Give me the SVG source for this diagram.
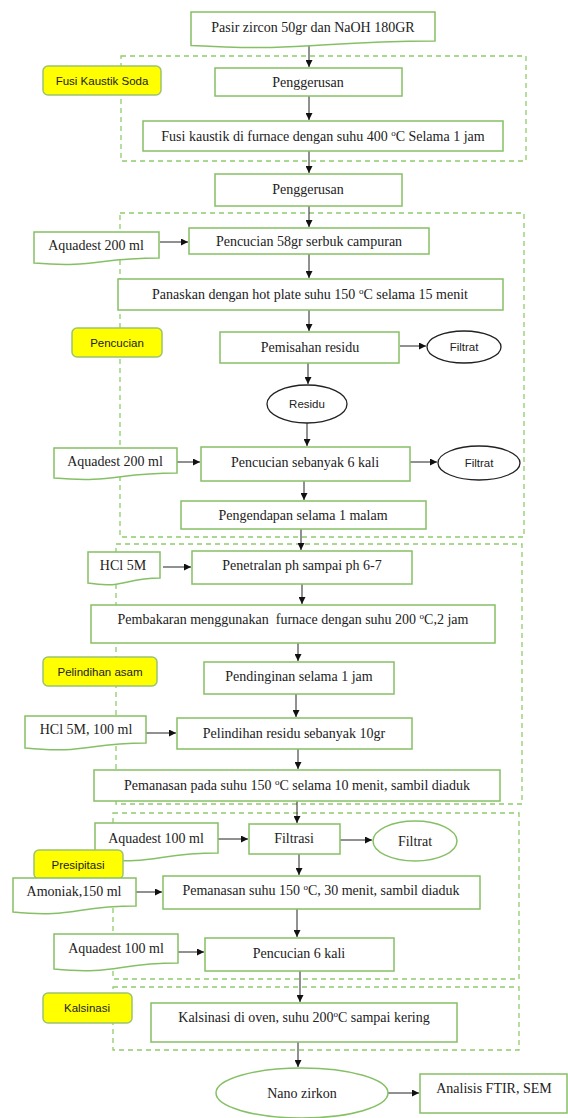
<svg xmlns="http://www.w3.org/2000/svg" width="568" height="1118" viewBox="0 0 568 1118">
<defs>
<style>
.bg{fill:#fff}
.grp{fill:none;stroke:#8fcc6c;stroke-width:1.3;stroke-dasharray:5,4}
.box{fill:#fff;stroke:#86c066;stroke-width:1.5}
.lbl{fill:#ffff00;stroke:#9cc46e;stroke-width:1.5}
.ell{fill:#fff;stroke:#222;stroke-width:1.3}
.t{font-family:"Liberation Serif","Times New Roman",serif;font-size:14px;fill:#222;text-anchor:middle}
.s{font-family:"Liberation Sans",Arial,sans-serif;font-size:11.5px;fill:#222;text-anchor:middle}
.c line{stroke:#222;stroke-width:1;marker-end:url(#ah)}
</style>
<marker id="ah" viewBox="0 0 10 10" refX="10" refY="5" markerWidth="7" markerHeight="7" markerUnits="userSpaceOnUse" orient="auto">
<path d="M0,0 L10,5 L0,10 Z" fill="#111"/>
</marker>
</defs>
<rect class="bg" x="0" y="0" width="568" height="1118"/>

<g id="groups">
<rect id="g_fusi" class="grp" x="121" y="56" width="405" height="105"/>
<rect id="g_pencucian" class="grp" x="120" y="213" width="404" height="324"/>
<rect id="g_pelindihan" class="grp" x="116" y="544" width="406" height="260"/>
<rect id="g_presipitasi" class="grp" x="113" y="813" width="406" height="166"/>
<rect id="g_kalsinasi" class="grp" x="113" y="987" width="406" height="63"/>
</g>

<g id="connectors" class="c">
<line x1="309" y1="45" x2="309" y2="67"/>
<line x1="309" y1="96" x2="309" y2="120"/>
<line x1="309" y1="151" x2="309" y2="173"/>
<line x1="309" y1="206" x2="309" y2="227"/>
<line x1="160" y1="242" x2="188" y2="242"/>
<line x1="309" y1="254" x2="309" y2="278"/>
<line x1="309" y1="310" x2="309" y2="331"/>
<line x1="400" y1="346" x2="426" y2="346"/>
<line x1="308" y1="363" x2="308" y2="384"/>
<line x1="307" y1="423" x2="307" y2="446"/>
<line x1="177" y1="462" x2="200" y2="462"/>
<line x1="410" y1="462" x2="437" y2="462"/>
<line x1="304" y1="481" x2="304" y2="500"/>
<line x1="301" y1="529" x2="301" y2="550"/>
<line x1="163" y1="567" x2="191" y2="567"/>
<line x1="302" y1="584" x2="302" y2="604"/>
<line x1="298" y1="643" x2="298" y2="661"/>
<line x1="296" y1="694" x2="296" y2="717"/>
<line x1="146" y1="733" x2="176" y2="733"/>
<line x1="298" y1="749" x2="298" y2="769"/>
<line x1="297" y1="801" x2="297" y2="823"/>
<line x1="218" y1="839" x2="248" y2="839"/>
<line x1="340" y1="840" x2="372" y2="840"/>
<line x1="299" y1="854" x2="299" y2="875"/>
<line x1="136" y1="892" x2="162" y2="892"/>
<line x1="297" y1="909" x2="297" y2="937"/>
<line x1="178" y1="952" x2="204" y2="952"/>
<line x1="300" y1="971" x2="300" y2="1002"/>
<line x1="298" y1="1042" x2="298" y2="1067"/>
<line x1="388" y1="1093" x2="419" y2="1093"/>
</g>

<g id="n_pasir"><path class="box" d="M191,12 H435 V41 C313,41 313,52 191,45.5 Z"/><text class="t" x="313" y="32">Pasir zircon 50gr dan NaOH 180GR</text></g>
<g id="l_fusi"><rect class="lbl" x="43" y="66" width="118" height="29" rx="5"/><text class="s" x="102" y="85">Fusi Kaustik Soda</text></g>
<g id="n_peng1"><rect class="box" x="215" y="68" width="187" height="28"/><text class="t" x="308" y="87">Penggerusan</text></g>
<g id="n_fusi"><rect class="box" x="143" y="121" width="360" height="30"/><text class="t" x="323" y="141">Fusi kaustik di furnace dengan suhu 400 <tspan font-size="9" dy="-5">o</tspan><tspan dy="5">C Selama 1 jam</tspan></text></g>
<g id="n_peng2"><rect class="box" x="215" y="174" width="187" height="32"/><text class="t" x="308" y="194">Penggerusan</text></g>

<g id="n_aq1"><path class="box" d="M34,232 H159 V258 C96,258 96,268 34,263 Z"/><text class="t" x="96" y="250">Aquadest 200 ml</text></g>
<g id="n_pen58"><rect class="box" x="189" y="228" width="240" height="26"/><text class="t" x="309" y="246">Pencucian 58gr serbuk campuran</text></g>
<g id="n_panas"><rect class="box" x="118" y="279" width="385" height="31"/><text class="t" x="310" y="299">Panaskan dengan hot plate suhu 150 <tspan font-size="9" dy="-5">o</tspan><tspan dy="5">C selama 15 menit</tspan></text></g>
<g id="l_pencucian"><rect class="lbl" x="72" y="328" width="90" height="29" rx="5"/><text class="s" x="117" y="347">Pencucian</text></g>
<g id="n_pemisahan"><rect class="box" x="220" y="332" width="179" height="31"/><text class="t" x="310" y="352">Pemisahan residu</text></g>
<g id="n_filtrat1"><ellipse class="ell" cx="464" cy="347" rx="37" ry="16"/><text class="s" x="464" y="351">Filtrat</text></g>
<g id="n_residu"><ellipse class="ell" cx="307" cy="404" rx="40" ry="19"/><text class="s" x="307" y="408">Residu</text></g>
<g id="n_aq2"><path class="box" d="M54,448 H177 V473 C115,473 115,483 54,478 Z"/><text class="t" x="115" y="466">Aquadest 200 ml</text></g>
<g id="n_pen6"><rect class="box" x="201" y="447" width="209" height="34"/><text class="t" x="305" y="467">Pencucian sebanyak 6 kali</text></g>
<g id="n_filtrat2"><ellipse class="ell" cx="479" cy="463" rx="41" ry="17"/><text class="s" x="479" y="467">Filtrat</text></g>
<g id="n_pengendapan"><rect class="box" x="181" y="501" width="245" height="28"/><text class="t" x="303" y="520">Pengendapan selama 1 malam</text></g>

<g id="n_hcl"><path class="box" d="M88,552 H160 V578 C124,578 124,589 88,583 Z"/><text class="t" x="123" y="570">HCl 5M</text></g>
<g id="n_penetralan"><rect class="box" x="192" y="551" width="220" height="33"/><text class="t" x="302" y="570">Penetralan ph sampai ph 6-7</text></g>
<g id="n_pembakaran"><rect class="box" x="91" y="605" width="404" height="38"/><text class="t" x="293" y="624" xml:space="preserve" style="white-space:pre">Pembakaran menggunakan  furnace dengan suhu 200 <tspan font-size="9" dy="-5">o</tspan><tspan dy="5">C,2 jam</tspan></text></g>
<g id="l_pelindihan"><rect class="lbl" x="43" y="657" width="114" height="29" rx="5"/><text class="s" x="100" y="676">Pelindihan asam</text></g>
<g id="n_pendinginan"><rect class="box" x="204" y="662" width="190" height="32"/><text class="t" x="299" y="681">Pendinginan selama 1 jam</text></g>
<g id="n_hcl100"><path class="box" d="M25,716 H146 V743 C86,743 86,754 25,748 Z"/><text class="t" x="86" y="734">HCl 5M, 100 ml</text></g>
<g id="n_pelindihan"><rect class="box" x="177" y="718" width="235" height="31"/><text class="t" x="294" y="738">Pelindihan residu sebanyak 10gr</text></g>
<g id="n_pemanasan1"><rect class="box" x="94" y="770" width="406" height="31"/><text class="t" x="297" y="790">Pemanasan pada suhu 150 <tspan font-size="9" dy="-5">o</tspan><tspan dy="5">C selama 10 menit, sambil diaduk</tspan></text></g>

<g id="n_aq3"><path class="box" d="M95,823 H218 V853 C156,853 156,865 95,859 Z"/><text class="t" x="156" y="843">Aquadest 100 ml</text></g>
<g id="n_filtrasi"><rect class="box" x="249" y="824" width="91" height="30"/><text class="t" x="294" y="843">Filtrasi</text></g>
<g id="n_filtrat3"><ellipse class="box" cx="415" cy="841" rx="42" ry="20"/><text class="t" x="415" y="846">Filtrat</text></g>
<g id="l_presipitasi"><rect class="lbl" x="34" y="850" width="89" height="29" rx="5"/><text class="s" x="78" y="869">Presipitasi</text></g>
<g id="n_amoniak"><path class="box" d="M13,878 H136 V906 C74,906 74,918 13,912 Z"/><text class="t" x="74" y="896">Amoniak,150 ml</text></g>
<g id="n_pemanasan2"><rect class="box" x="163" y="876" width="317" height="33"/><text class="t" x="321" y="895">Pemanasan suhu 150 <tspan font-size="9" dy="-5">o</tspan><tspan dy="5">C, 30 menit, sambil diaduk</tspan></text></g>
<g id="n_aq4"><path class="box" d="M54,934 H178 V963 C116,963 116,975 54,969 Z"/><text class="t" x="116" y="953">Aquadest 100 ml</text></g>
<g id="n_pen6b"><rect class="box" x="205" y="938" width="189" height="33"/><text class="t" x="299" y="958">Pencucian 6 kali</text></g>

<g id="l_kalsinasi"><rect class="lbl" x="43" y="993" width="89" height="30" rx="5"/><text class="s" x="87" y="1012">Kalsinasi</text></g>
<g id="n_kalsinasi"><rect class="box" x="151" y="1003" width="306" height="39"/><text class="t" x="304" y="1022">Kalsinasi di oven, suhu 200<tspan font-size="9" dy="-5">o</tspan><tspan dy="5">C sampai kering</tspan></text></g>
<g id="n_nano"><ellipse class="box" cx="302" cy="1093" rx="86" ry="25"/><text class="t" x="302" y="1098">Nano zirkon</text></g>
<g id="n_analisis"><rect class="box" x="420" y="1074" width="147" height="39"/><text class="t" x="494" y="1093">Analisis FTIR, SEM</text></g>
</svg>
